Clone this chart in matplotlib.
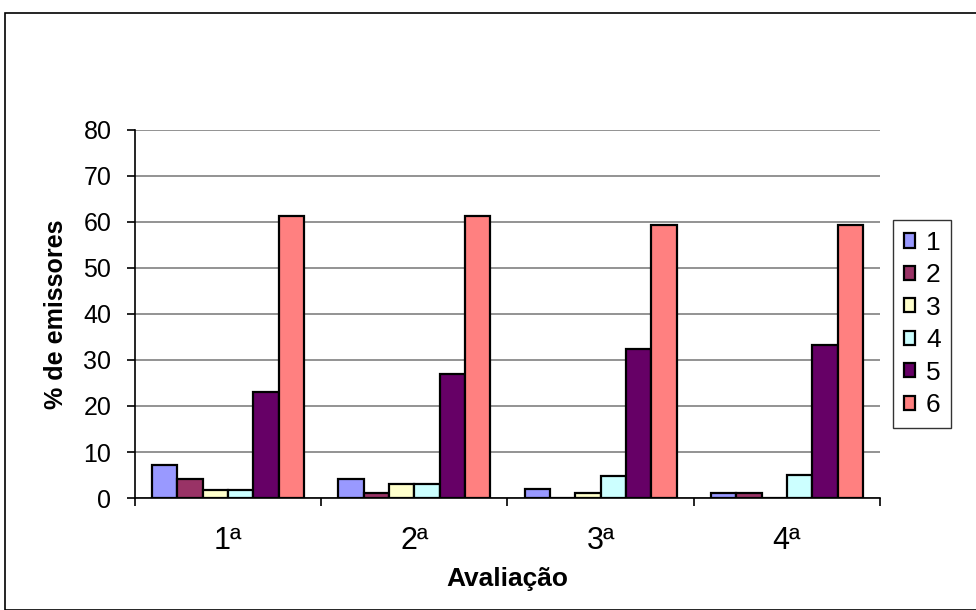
import matplotlib.pyplot as plt
import numpy as np
from matplotlib.patches import Rectangle

plt.rcParams["font.family"] = ["Liberation Sans", "DejaVu Sans"]

avaliacoes = ["1ª", "2ª", "3ª", "4ª"]
series = ["1", "2", "3", "4", "5", "6"]
valores = {
    "1": [7.2, 4.1, 2.0, 1.1],
    "2": [4.1, 1.1, 0.0, 1.1],
    "3": [1.8, 3.0, 1.0, 0.0],
    "4": [1.8, 3.0, 4.8, 5.0],
    "5": [23.0, 27.0, 32.4, 33.2],
    "6": [61.4, 61.4, 59.4, 59.4],
}
cores = ["#9999FF", "#993366", "#FFFFCC", "#CCFFFF", "#660066", "#FF8080"]

fig = plt.figure(figsize=(9.76, 6.10), dpi=100)
ax = fig.add_axes([135 / 976, 1 - 498 / 610, 745 / 976, 368 / 610])

# moldura externa do grafico
fig.patches.append(Rectangle((5 / 976, 0), 1.0, 1 - 13 / 610, transform=fig.transFigure,
                             fill=False, edgecolor="black", linewidth=1.2))

x = np.arange(len(avaliacoes))
w = 0.136
for i, s in enumerate(series):
    ax.bar(x + (i - 2.5) * w, valores[s], w, color=cores[i], edgecolor="black",
           linewidth=1.6, label=s, zorder=3)

ax.set_xlim(-0.5, 3.5)
ax.set_ylim(0, 80)
ax.set_yticks(range(0, 81, 10))
ax.yaxis.grid(True, color="#808080", linewidth=1.2, zorder=0)
ax.tick_params(axis="y", labelsize=18, direction="out", length=6, width=1.2, pad=11)

ax.set_xticks(x)
ax.set_xticklabels(avaliacoes, fontsize=22)
ax.tick_params(axis="x", which="major", length=0, pad=20)
ax.set_xticks(np.arange(-0.5, 4.0, 1.0), minor=True)
ax.tick_params(axis="x", which="minor", direction="out", length=6, width=1.2)

for lado in ["top", "right"]:
    ax.spines[lado].set_visible(False)
ax.spines["left"].set_linewidth(1.2)
ax.spines["bottom"].set_linewidth(1.2)

ax.set_ylabel("% de emissores", fontsize=18, fontweight="bold", labelpad=11)
ax.set_xlabel("Avaliação", fontsize=19, fontweight="bold", labelpad=8)

leg = ax.legend(loc="center left", bbox_to_anchor=(893 / 976, 1 - 324 / 610),
                bbox_transform=fig.transFigure, fontsize=19, frameon=True,
                fancybox=False, edgecolor="black", handlelength=0.45,
                handleheight=0.45, handletextpad=0.4, labelspacing=0.32,
                borderpad=0.4, borderaxespad=0)
leg.get_frame().set_linewidth(1.0)

fig.savefig("out.png", dpi=100)
